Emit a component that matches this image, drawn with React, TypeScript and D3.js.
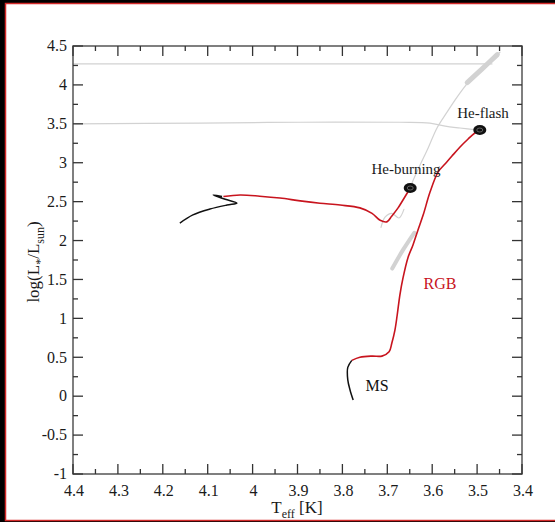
import React from 'react';
import * as d3 from 'd3';

const xTicks = [4.4, 4.3, 4.2, 4.1, 4.0, 3.9, 3.8, 3.7, 3.6, 3.5, 3.4];
const xTickLabels = ['4.4', '4.3', '4.2', '4.1', '4', '3.9', '3.8', '3.7', '3.6', '3.5', '3.4'];
const xMinor = [4.35, 4.25, 4.15, 4.05, 3.95, 3.85, 3.75, 3.65, 3.55, 3.45];
const yTicks = [-1, -0.5, 0, 0.5, 1, 1.5, 2, 2.5, 3, 3.5, 4, 4.5];
const yTickLabels = ['-1', '-0.5', '0', '0.5', '1', '1.5', '2', '2.5', '3', '3.5', '4', '4.5'];
const yMinor = [-0.75, -0.25, 0.25, 0.75, 1.25, 1.75, 2.25, 2.75, 3.25, 3.75, 4.25];

// [logTeff, logL]
const msTrack: [number, number][] = [
  [3.776, -0.05], [3.783, 0.08], [3.788, 0.21], [3.788, 0.37], [3.779, 0.46],
];
const rgbTrack: [number, number][] = [
  [3.779, 0.46], [3.761, 0.5], [3.734, 0.515], [3.712, 0.515], [3.696, 0.57], [3.69, 0.68],
  [3.683, 0.85], [3.678, 1.04], [3.672, 1.3], [3.665, 1.52], [3.654, 1.78], [3.643, 1.94],
  [3.632, 2.13], [3.62, 2.33], [3.605, 2.62], [3.587, 2.88], [3.5715, 2.983], [3.556, 3.086],
  [3.538, 3.202], [3.52, 3.305], [3.505, 3.382], [3.494, 3.42],
];
const hbTrack: [number, number][] = [
  [3.649, 2.675], [3.661, 2.56], [3.676, 2.42], [3.69, 2.315], [3.701, 2.24], [3.716, 2.26],
  [3.734, 2.35], [3.761, 2.42], [3.805, 2.456], [3.85, 2.48], [3.894, 2.51], [3.939, 2.546],
  [3.984, 2.57], [4.028, 2.585], [4.065, 2.565],
];
const blueLoop: [number, number][] = [
  [4.162, 2.225], [4.133, 2.33], [4.095, 2.405], [4.057, 2.456], [4.035, 2.48],
  [4.061, 2.53], [4.088, 2.585], [4.068, 2.565],
];
const grayTop: [number, number][] = [[4.4, 4.27], [3.467, 4.27]];
const grayMid: [number, number][] = [
  [4.396, 3.5], [4.117, 3.51], [3.894, 3.52], [3.672, 3.52], [3.605, 3.51], [3.571, 3.47],
  [3.538, 3.446], [3.498, 3.42],
];
const grayAgb: [number, number][] = [
  [3.649, 2.675], [3.642, 2.78], [3.627, 2.97], [3.609, 3.19], [3.589, 3.45], [3.567, 3.65],
  [3.545, 3.84], [3.523, 4.01], [3.498, 4.17], [3.471, 4.32], [3.449, 4.42],
];
const grayAgbBand: [number, number][] = [[3.522, 4.03], [3.49, 4.2], [3.455, 4.39]];
const grayWedge: [number, number][] = [[3.689, 1.64], [3.665, 1.88], [3.64, 2.1]];
const grayHook: [number, number][] = [
  [3.714, 2.17], [3.705, 2.3], [3.69, 2.35], [3.674, 2.29], [3.663, 2.4],
];
const heFlash: [number, number] = [3.494, 3.42];
const heBurning: [number, number] = [3.649, 2.675];

const x = d3.scaleLinear().domain([4.4, 3.4]).range([73, 522]);
const y = d3.scaleLinear().domain([-1, 4.5]).range([474, 46]);

const line = d3
  .line<[number, number]>()
  .x((d) => x(d[0]))
  .y((d) => y(d[1]))
  .curve(d3.curveCatmullRom.alpha(0.5));

const FONT = '"Liberation Serif", "DejaVu Serif", serif';

export default function App() {
  const [x0, x1] = x.range();
  const [y0, y1] = y.range();
  return (
    <svg
      width={555}
      height={522}
      style={{ position: 'absolute', left: 0, top: 0, display: 'block' }}
      fontFamily={FONT}
    >
      <rect x={0} y={0} width={555} height={522} fill="#000" />
      <rect x={5.5} y={3.5} width={560} height={517} fill="#fff" stroke="#d42a2a" strokeWidth={1.5} />

      {/* gray tracks */}
      <g fill="none" stroke="#d2d2d2" strokeLinecap="round">
        <path d={line(grayTop) || ''} strokeWidth={1.2} />
        <path d={line(grayMid) || ''} strokeWidth={1.2} />
        <path d={line(grayAgb) || ''} strokeWidth={1.2} />
        <path d={line(grayAgbBand) || ''} strokeWidth={5} />
        <path d={line(grayWedge) || ''} strokeWidth={4} />
        <path d={line(grayHook) || ''} strokeWidth={1.2} />
      </g>

      {/* tracks */}
      <path d={line(msTrack) || ''} fill="none" stroke="#111" strokeWidth={1.5} />
      <path d={line(blueLoop) || ''} fill="none" stroke="#111" strokeWidth={1.5} />
      <path d={line(rgbTrack) || ''} fill="none" stroke="#c8141e" strokeWidth={1.6} />
      <path d={line(hbTrack) || ''} fill="none" stroke="#c8141e" strokeWidth={1.6} />

      {[heFlash, heBurning].map((p, i) => (
        <g key={i}>
          <ellipse cx={x(p[0])} cy={y(p[1])} rx={6.5} ry={5} fill="#111" />
          <ellipse cx={x(p[0])} cy={y(p[1])} rx={3} ry={2} fill="none" stroke="#777" strokeWidth={0.8} />
        </g>
      ))}

      {/* frame */}
      <rect x={x0} y={y1} width={x1 - x0} height={y0 - y1} fill="none" stroke="#555" strokeWidth={1.5} />

      {/* ticks */}
      <g stroke="#333" strokeWidth={1.3}>
        {xTicks.map((t) => (
          <g key={'xt' + t}>
            <line x1={x(t)} x2={x(t)} y1={y0} y2={y0 - 10} />
            <line x1={x(t)} x2={x(t)} y1={y1} y2={y1 + 10} />
          </g>
        ))}
        {xMinor.map((t) => (
          <g key={'xm' + t}>
            <line x1={x(t)} x2={x(t)} y1={y0} y2={y0 - 5} />
            <line x1={x(t)} x2={x(t)} y1={y1} y2={y1 + 5} />
          </g>
        ))}
        {yTicks.map((t) => (
          <g key={'yt' + t}>
            <line x1={x0} x2={x0 + 10} y1={y(t)} y2={y(t)} />
            <line x1={x1} x2={x1 - 10} y1={y(t)} y2={y(t)} />
          </g>
        ))}
        {yMinor.map((t) => (
          <g key={'ym' + t}>
            <line x1={x0} x2={x0 + 5} y1={y(t)} y2={y(t)} />
            <line x1={x1} x2={x1 - 5} y1={y(t)} y2={y(t)} />
          </g>
        ))}
      </g>

      {/* tick labels */}
      <g fontSize={16} fill="#1a1a1a">
        {xTicks.map((t, i) => (
          <text key={'xl' + t} x={x(t) + 1} y={y0 + 22} textAnchor="middle">
            {xTickLabels[i]}
          </text>
        ))}
        {yTicks.map((t, i) => (
          <text key={'yl' + t} x={x0 - 6} y={y(t)} dy="0.33em" textAnchor="end">
            {yTickLabels[i]}
          </text>
        ))}
      </g>

      {/* axis titles */}
      <text x={297} y={513} fontSize={17} textAnchor="middle" fill="#1a1a1a">
        T
        <tspan fontSize={12} dy={5}>eff</tspan>
        <tspan dy={-5}> [K]</tspan>
      </text>
      <text transform="translate(39,262) rotate(-90)" fontSize={17} textAnchor="middle" fill="#1a1a1a">
        log(L
        <tspan fontSize={12} dy={5}>*</tspan>
        <tspan dy={-5}>/L</tspan>
        <tspan fontSize={12} dy={5}>sun</tspan>
        <tspan dy={-5}>)</tspan>
      </text>

      {/* annotations */}
      <text x={483} y={118} fontSize={15} textAnchor="middle" fill="#1a1a1a">He-flash</text>
      <text x={406} y={174} fontSize={15} textAnchor="middle" fill="#1a1a1a">He-burning</text>
      <text x={440} y={289} fontSize={16} textAnchor="middle" fill="#c8141e">RGB</text>
      <text x={377} y={391} fontSize={16} textAnchor="middle" fill="#111">MS</text>
    </svg>
  );
}
